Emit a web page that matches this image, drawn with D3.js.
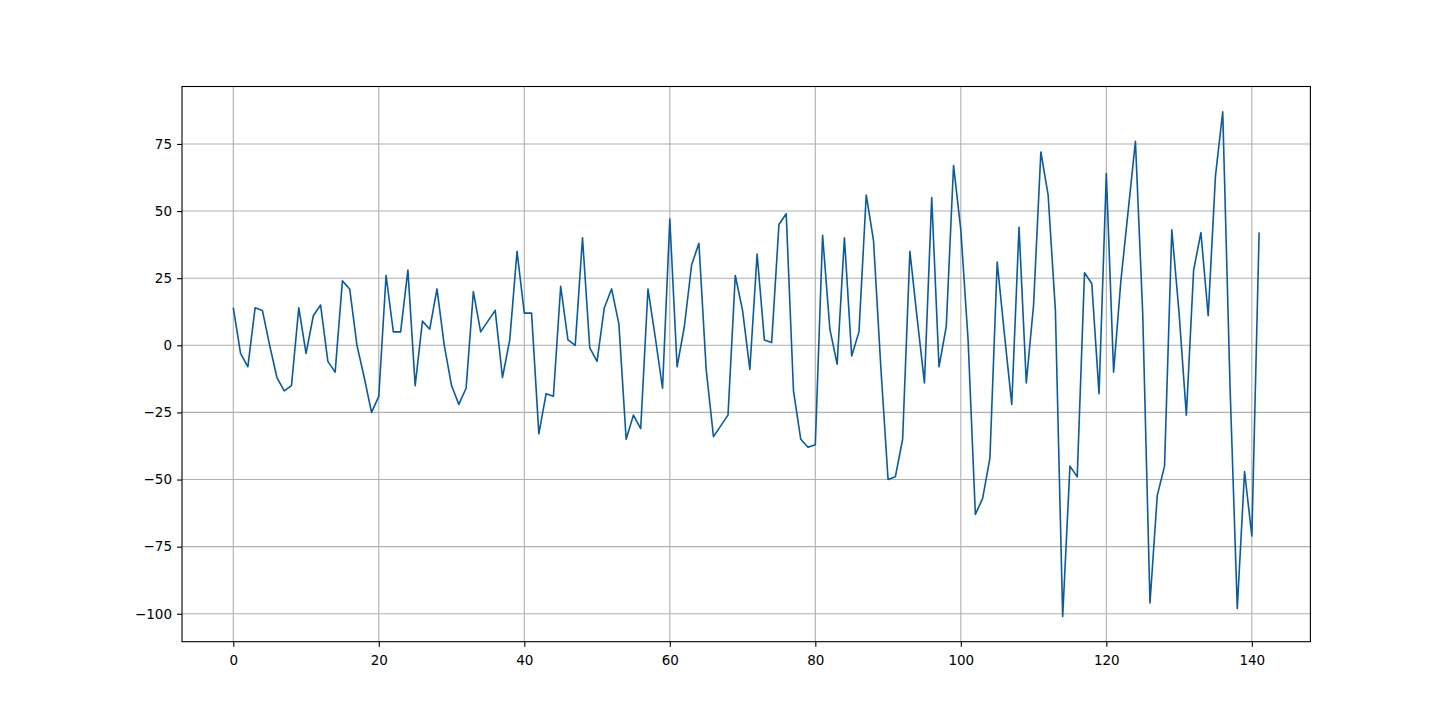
<!DOCTYPE html>
<html>
<head>
<meta charset="utf-8">
<script src="https://cdn.jsdelivr.net/npm/d3@7"></script>
<style>
  body { margin: 0; background: #fff; }
  svg text { font-family: "DejaVu Sans", sans-serif; font-size: 13.5px; fill: #000; }
</style>
</head>
<body>
<div id="chart"></div>
<script>
//Valores de la serie
const values = [
  14, -3, -8, 14, 13, 0, -12, -17, -15, 14,
  -3, 11, 15, -6, -10, 24, 21, 0, -12, -25,
  -19, 26, 5, 5, 28, -15, 9, 6, 21, 0,
  -15, -22, -16, 20, 5, 9, 13, -12, 2, 35,
  12, 12, -33, -18, -19, 22, 2, 0, 40, -1,
  -6, 14, 21, 8, -35, -26, -31, 21, 3, -16,
  47, -8, 7, 30, 38, -9, -34, -30, -26, 26,
  13, -9, 34, 2, 1, 45, 49, -17, -35, -38,
  -37, 41, 6, -7, 40, -4, 5, 56, 39, -8,
  -50, -49, -35, 35, 10, -14, 55, -8, 7, 67,
  43, 2, -63, -57, -42, 31, 4, -22, 44, -14,
  15, 72, 56, 13, -101, -45, -49, 27, 23, -18,
  64, -10, 24, 50, 76, 12, -96, -56, -45, 43,
  12, -26, 28, 42, 11, 63, 87, -15, -98, -47,
  -71, 42
];
const xTicks = [0, 20, 40, 60, 80, 100, 120, 140];
const yTicks = [-100, -75, -50, -25, 0, 25, 50, 75];

const W = 1456, H = 721;
const margin = {top: 86.5, right: 145.6, bottom: 79.3, left: 182};
const width = W - margin.left - margin.right,
      height = H - margin.top - margin.bottom;

const svg = d3.select("#chart").append("svg")
    .attr("width", W).attr("height", H);
const g = svg.append("g")
    .attr("transform", "translate(" + margin.left + "," + margin.top + ")");

//Márgenes del 5% como matplotlib
const n = values.length - 1;
const yMin = d3.min(values), yMax = d3.max(values);
const x = d3.scaleLinear().domain([-0.05 * n, n * 1.05]).range([0, width]);
const yPad = (yMax - yMin) * 0.05;
const y = d3.scaleLinear().domain([yMin - yPad, yMax + yPad]).range([height, 0]);

//Rejilla
g.append("g").selectAll("line").data(xTicks).enter().append("line")
    .attr("x1", d => x(d)).attr("x2", d => x(d))
    .attr("y1", 0).attr("y2", height)
    .attr("stroke", "#b0b0b0").attr("stroke-width", 1.1);
g.append("g").selectAll("line").data(yTicks).enter().append("line")
    .attr("y1", d => y(d)).attr("y2", d => y(d))
    .attr("x1", 0).attr("x2", width)
    .attr("stroke", "#b0b0b0").attr("stroke-width", 1.1);

//Línea
const line = d3.line().x((d, i) => x(i)).y(d => y(d));
g.append("path").datum(values)
    .attr("fill", "none")
    .attr("stroke", "#0a5aa0")
    .attr("stroke-width", 1.6)
    .attr("stroke-linejoin", "round")
    .attr("d", line);

//Ejes
const xAxis = g.append("g")
    .attr("transform", "translate(0," + height + ")")
    .call(d3.axisBottom(x).tickValues(xTicks).tickSize(5).tickPadding(5).tickFormat(d3.format("d")));
const yAxis = g.append("g")
    .call(d3.axisLeft(y).tickValues(yTicks).tickSize(5).tickPadding(5).tickFormat(d3.format("d")));
[xAxis, yAxis].forEach(a => {
    a.select(".domain").remove();
    a.selectAll(".tick line").attr("stroke", "#000").attr("stroke-width", 1.1);
    a.selectAll("text").attr("font-size", null).attr("font-family", null);
});
xAxis.selectAll("text").attr("dy", "0.95em");

//Marco
g.append("rect")
    .attr("width", width).attr("height", height)
    .attr("fill", "none").attr("stroke", "#000").attr("stroke-width", 1.1);
</script>
</body>
</html>
